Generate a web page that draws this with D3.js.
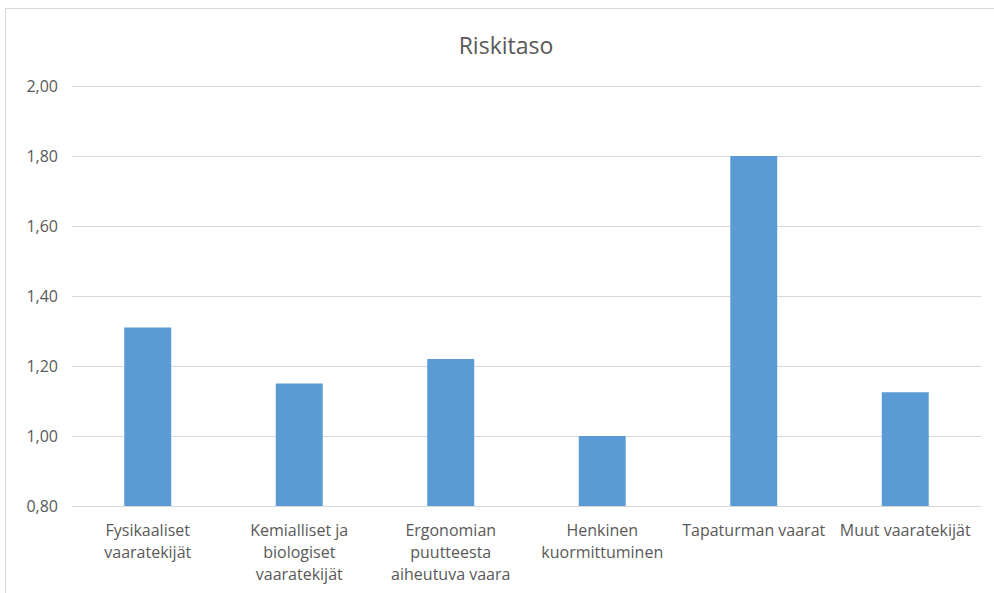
<!DOCTYPE html>
<html lang="fi">
<head>
  <meta charset="UTF-8">
  <title>Riskitaso</title>
  <style>
    body { margin: 0; background: #fff; }
    svg text { font-family: "Open Sans", "Liberation Sans", sans-serif; fill: #595959; }
  </style>
</head>
<body>
  <svg id="chart" width="994" height="593"></svg>
  <script src="https://d3js.org/d3.v7.min.js"></script>
  <script>
    const categories = [
      ['Fysikaaliset', 'vaaratekijät'],
      ['Kemialliset ja', 'biologiset', 'vaaratekijät'],
      ['Ergonomian', 'puutteesta', 'aiheutuva vaara'],
      ['Henkinen', 'kuormittuminen'],
      ['Tapaturman vaarat'],
      ['Muut vaaratekijät']
    ];
    const values = [1.31, 1.15, 1.22, 1.00, 1.80, 1.125];
    const yTicks = [0.8, 1.0, 1.2, 1.4, 1.6, 1.8, 2.0];
    const title = 'Riskitaso';

    const W = 994, H = 593;
    const margin = {top: 86, right: 13, bottom: 87, left: 72};
    const innerW = W - margin.left - margin.right;
    const innerH = H - margin.top - margin.bottom;

    const svg = d3.select('#chart');

    // chart frame
    svg.append('rect')
      .attr('x', 5.5).attr('y', 8.5)
      .attr('width', W).attr('height', H)
      .attr('fill', 'none').attr('stroke', '#d9d9d9');

    svg.append('text')
      .attr('x', 506).attr('y', 54)
      .attr('text-anchor', 'middle')
      .attr('font-size', 23)
      .text(title);

    const x = d3.scaleBand()
      .domain(d3.range(categories.length))
      .range([0, innerW])
      .paddingInner(0.69)
      .paddingOuter(0.345);

    const y = d3.scaleLinear().domain([0.8, 2.0]).range([innerH, 0]);

    const g = svg.append('g').attr('transform', `translate(${margin.left},${margin.top})`);

    // grid
    g.selectAll('line.grid')
      .data(yTicks)
      .join('line')
      .attr('class', 'grid')
      .attr('x1', 0).attr('x2', innerW)
      .attr('y1', d => Math.round(y(d)) + 0.5)
      .attr('y2', d => Math.round(y(d)) + 0.5)
      .attr('stroke', '#d9d9d9');

    // y labels
    const fmt = d => d3.format('.2f')(d).replace('.', ',');
    g.selectAll('text.ytick')
      .data(yTicks)
      .join('text')
      .attr('class', 'ytick')
      .attr('x', -14)
      .attr('y', d => y(d))
      .attr('dy', '0.35em')
      .attr('text-anchor', 'end')
      .attr('font-size', 16)
      .text(fmt);

    // bars
    g.selectAll('rect.bar')
      .data(values)
      .join('rect')
      .attr('class', 'bar')
      .attr('x', (d, i) => x(i))
      .attr('width', x.bandwidth())
      .attr('y', d => y(d))
      .attr('height', d => y(0.8) - y(d))
      .attr('fill', '#5b9bd5');

    // category labels, one text per line
    categories.forEach((lines, i) => {
      g.selectAll(null)
        .data(lines)
        .join('text')
        .attr('class', 'xlab')
        .attr('text-anchor', 'middle')
        .attr('font-size', 16)
        .attr('x', x(i) + x.bandwidth() / 2)
        .attr('y', (d, j) => innerH + 30 + j * 22)
        .text(d => d);
    });
  </script>
</body>
</html>
